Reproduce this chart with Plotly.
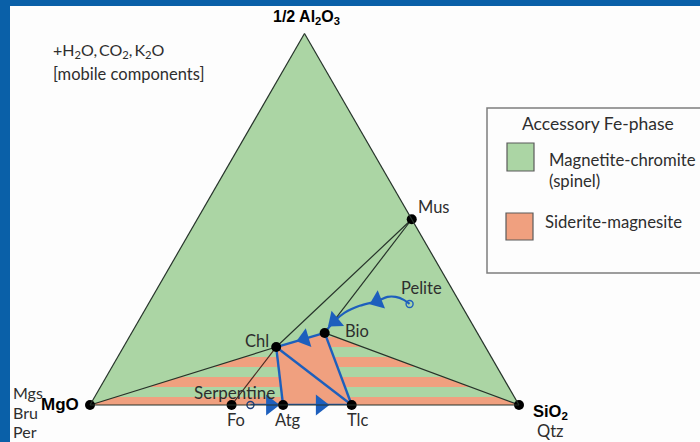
import math
import plotly.graph_objects as go

# Ternary compositions: a = 1/2 Al2O3 (top), b = MgO (left), c = SiO2 (right)
phase_names = ["MgO", "SiO2", "Mus", "Chl", "Bio", "Fo", "Atg", "Tlc"]
phase_a = [0.0, 0.0, 0.50, 0.156, 0.194, 0.0, 0.0, 0.0]
phase_b = [1.0, 0.0, 0.00, 0.488, 0.356, 0.67, 0.55, 0.39]
phase_c = [0.0, 1.0, 0.50, 0.356, 0.450, 0.33, 0.45, 0.61]

# Bulk rock compositions (open circles)
bulk_names = ["Serpentine", "Pelite"]
bulk_a = [0.0, 0.272]
bulk_b = [0.626, 0.119]
bulk_c = [0.374, 0.609]

# Tie lines
black_ties = [("MgO", "Chl"), ("Chl", "Mus"), ("Bio", "Mus"), ("Bio", "SiO2")]
brown_ties = [("Fo", "Chl")]
blue_ties = [("Chl", "Atg"), ("Chl", "Tlc"), ("Bio", "Tlc"), ("Chl", "Bio")]

# Reaction path from pelite towards biotite
pelite_path_a = [0.272, 0.283, 0.291, 0.291, 0.280, 0.267, 0.248, 0.226, 0.194]
pelite_path_b = [0.119, 0.127, 0.142, 0.161, 0.190, 0.238, 0.283, 0.317, 0.356]
pelite_path_c = [0.609, 0.590, 0.567, 0.548, 0.530, 0.495, 0.469, 0.457, 0.450]

# Serpentine -> Atg -> Tlc path along the MgO-SiO2 join
serp_path_c = [0.374, 0.45, 0.61]

# Arrowheads: (from, to) point pairs, arrow sits at "to"
arrow_pairs = [
    ((0.0, 0.60, 0.40), (0.0, 0.579, 0.421)),
    ((0.0, 0.49, 0.51), (0.0, 0.463, 0.537)),
    ((0.194, 0.356, 0.450), (0.178, 0.411, 0.411)),
    ((0.291, 0.161, 0.548), (0.280, 0.190, 0.530)),
    ((0.248, 0.283, 0.469), (0.226, 0.317, 0.457)),
]
arrow_sizes = [18, 18, 17, 17, 17]

# Accessory Fe-phase stability fields
siderite_field = ["MgO", "Chl", "Bio", "SiO2"]
siderite_core = ["Chl", "Atg", "Tlc", "Bio"]
spinel_bands = [(0.0216, 0.0485), (0.0755, 0.1024), (0.1294, 0.1563), (0.183, 0.25)]

GREEN = "#abd5a4"
ORANGE = "#f0a07f"
BLUE = "#1d5fbd"
DARK = "#26332a"
BROWN = "#4a2a22"
FRAME = "#0a60a8"
TEXT = "#2e2e2e"
FONT = "Lato"

idx = {n: i for i, n in enumerate(phase_names)}


def pt(name):
    i = idx[name]
    return (phase_a[i], phase_b[i], phase_c[i])


def clip_band(poly, lo, hi):
    def half(poly, keep, t):
        out = []
        n = len(poly)
        for i in range(n):
            p, q = poly[i], poly[(i + 1) % n]
            pin, qin = keep(p[0]), keep(q[0])
            if pin:
                out.append(p)
            if pin != qin:
                s = (t - p[0]) / (q[0] - p[0])
                out.append(tuple(p[k] + s * (q[k] - p[k]) for k in range(3)))
        return out
    poly = half(poly, lambda a: a >= lo, lo)
    if not poly:
        return poly
    return half(poly, lambda a: a <= hi, hi)


def fill_trace(poly, color):
    poly = list(poly) + [poly[0]]
    return go.Scatterternary(
        a=[p[0] for p in poly], b=[p[1] for p in poly], c=[p[2] for p in poly],
        mode="lines", fill="toself", fillcolor=color, line=dict(width=0),
        hoverinfo="skip", showlegend=False)


def line_trace(p, q, color, width):
    return go.Scatterternary(
        a=[p[0], q[0]], b=[p[1], q[1]], c=[p[2], q[2]], mode="lines",
        line=dict(color=color, width=width), hoverinfo="skip", showlegend=False,
        cliponaxis=False)


def screen_angle(p, q):
    # direction on an equilateral triangle, clockwise from "up"
    dx = (q[2] - p[2]) + 0.5 * (q[0] - p[0])
    dy = (q[0] - p[0]) * math.sqrt(3) / 2
    return math.degrees(math.atan2(dx, dy))


fig = go.Figure()

field = [pt(n) for n in siderite_field]
fig.add_trace(fill_trace(field, ORANGE))
for lo, hi in spinel_bands:
    band = clip_band(field, lo, hi)
    if len(band) >= 3:
        fig.add_trace(fill_trace(band, GREEN))
fig.add_trace(fill_trace([pt(n) for n in siderite_core], ORANGE))

for p, q in black_ties:
    fig.add_trace(line_trace(pt(p), pt(q), DARK, 1.2))
for p, q in brown_ties:
    fig.add_trace(line_trace(pt(p), pt(q), BROWN, 1.2))
for p, q in blue_ties:
    fig.add_trace(line_trace(pt(p), pt(q), BLUE, 2.4))

fig.add_trace(go.Scatterternary(
    a=[0] * len(serp_path_c), b=[1 - c for c in serp_path_c], c=serp_path_c,
    mode="lines", line=dict(color=BLUE, width=2.4), hoverinfo="skip",
    showlegend=False, cliponaxis=False))

fig.add_trace(go.Scatterternary(
    a=pelite_path_a, b=pelite_path_b, c=pelite_path_c, mode="lines",
    line=dict(color=BLUE, width=2.2, shape="spline"), hoverinfo="skip", showlegend=False))

for (p, q), s in zip(arrow_pairs, arrow_sizes):
    fig.add_trace(go.Scatterternary(
        a=[q[0]], b=[q[1]], c=[q[2]], mode="markers",
        marker=dict(symbol="triangle-up", size=s, color=BLUE,
                    angle=screen_angle(p, q), line=dict(width=0)),
        hoverinfo="skip", showlegend=False, cliponaxis=False))

fig.add_trace(go.Scatterternary(
    a=bulk_a, b=bulk_b, c=bulk_c, mode="markers",
    marker=dict(size=7, color="rgba(0,0,0,0)", line=dict(color=["#1d3f7a", BLUE], width=1.4)),
    text=bulk_names, hoverinfo="text", showlegend=False, cliponaxis=False))

fig.add_trace(go.Scatterternary(
    a=phase_a, b=phase_b, c=phase_c, mode="markers",
    marker=dict(size=10, color="black"), text=phase_names, hoverinfo="text",
    showlegend=False, cliponaxis=False))

axis_style = dict(showticklabels=False, ticks="", showgrid=False,
                  linecolor=DARK, linewidth=1.2, title=dict(text=""))

W, H = 700, 442


def ann(text, x, y, xanchor="left", size=16.5, bold=False, color=TEXT):
    return dict(
        text=text, x=x / W, y=1 - y / H, xref="paper", yref="paper",
        xanchor=xanchor, yanchor="middle", showarrow=False,
        font=dict(family="Liberation Sans" if bold else FONT,
                  size=size, color="black" if bold else color,
                  weight="bold" if bold else "normal"))


TS = "\u2009"  # thin space between the mobile components
annotations = [
    ann("1/2 Al<sub>2</sub>O<sub>3</sub>", 306, 18, "center", 16, True),
    ann(f"+H<sub>2</sub>O,{TS}CO<sub>2</sub>,{TS}K<sub>2</sub>O", 51, 50, size=16),
    ann("[mobile components]", 51, 74, size=16.5),
    ann("Accessory Fe-phase", 520, 123, size=17.5),
    ann("Magnetite-chromite", 547, 160, size=16.7),
    ann("(spinel)", 547, 181, size=16.7),
    ann("Siderite-magnesite", 543, 222, size=16.7),
    ann("Mus", 416, 207),
    ann("Pelite", 399, 288),
    ann("Bio", 343, 331),
    ann("Chl", 271, 341, "right"),
    ann("Serpentine", 192, 392, size=17),
    ann("Fo", 236, 420, "center"),
    ann("Atg", 288, 420, "center"),
    ann("Tlc", 357, 420, "center"),
    ann("MgO", 81, 404, "right", 17, True),
    ann("Mgs", 11, 392, size=16),
    ann("Bru", 11, 412, size=16),
    ann("Per", 11, 431, size=16),
    ann("SiO<sub>2</sub>", 531, 412, "left", 16.5, True),
    ann("Qtz", 535, 431),
]


def rect(x0, y0, x1, y1, fill, line_color=None, width=0):
    return dict(type="rect", xref="paper", yref="paper",
                x0=x0 / W, x1=x1 / W, y0=1 - y1 / H, y1=1 - y0 / H,
                fillcolor=fill, line=dict(color=line_color or fill, width=width),
                layer="above")


shapes = [
    rect(0, 0, 10, H, FRAME),
    rect(0, 0, W, 6, FRAME),
    rect(487, 108, 712, 273, "rgba(0,0,0,0)", "#7d7d7d", 1.5),
    rect(507, 143, 534, 171, GREEN, "#5b5b5b", 1.2),
    rect(506, 213, 533, 240, ORANGE, "#5b5b5b", 1.2),
]

fig.update_layout(
    width=W, height=H,
    margin=dict(l=0, r=0, t=0, b=0),
    paper_bgcolor="#fdfdfd",
    showlegend=False,
    ternary=dict(
        sum=1,
        domain=dict(x=[90 / W, 519 / W], y=[37 / H, 408.5 / H]),
        bgcolor=GREEN,
        aaxis=axis_style, baxis=axis_style, caxis=axis_style,
    ),
    annotations=annotations,
    shapes=shapes,
)

fig.write_html("out.html")
